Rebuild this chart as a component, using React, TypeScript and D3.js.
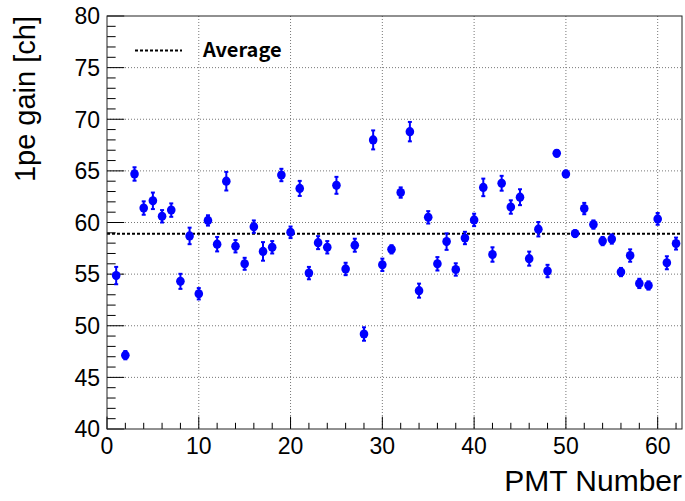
import React from "react";
import * as d3 from "d3";

const pmtNumbers = [
  1, 2, 3, 4, 5, 6, 7, 8, 9, 10, 11, 12, 13, 14, 15, 16, 17, 18, 19, 20, 21,
  22, 23, 24, 25, 26, 27, 28, 29, 30, 31, 32, 33, 34, 35, 36, 37, 38, 39, 40,
  41, 42, 43, 44, 45, 46, 47, 48, 49, 50, 51, 52, 53, 54, 55, 56, 57, 58, 59,
  60, 61, 62,
];
const gains = [
  54.86, 47.15, 64.7, 61.4, 62.1, 60.6, 61.2, 54.3, 58.7, 53.1, 60.2, 57.9,
  64.0, 57.7, 56.0, 59.6, 57.2, 57.6, 64.6, 59.05, 63.3, 55.1, 58.05, 57.6,
  63.6, 55.5, 57.8, 49.2, 68.0, 55.9, 57.4, 62.9, 68.8, 53.4, 60.5, 56.0,
  58.15, 55.45, 58.5, 60.25, 63.4, 56.9, 63.8, 61.5, 62.45, 56.5, 59.35, 55.3,
  66.7, 64.7, 58.93, 61.35, 59.8, 58.2, 58.4, 55.2, 56.8, 54.1, 53.9, 60.35,
  56.1, 57.96,
];
const gainErrors = [
  0.84, 0.4, 0.65, 0.65, 0.8, 0.6, 0.65, 0.73, 0.8, 0.55, 0.5, 0.7, 0.9, 0.6,
  0.58, 0.6, 0.9, 0.6, 0.6, 0.56, 0.73, 0.6, 0.63, 0.6, 0.82, 0.6, 0.63, 0.65,
  0.92, 0.6, 0.4, 0.5, 0.94, 0.68, 0.6, 0.65, 0.8, 0.6, 0.6, 0.6, 0.85, 0.7,
  0.72, 0.65, 0.77, 0.68, 0.7, 0.6, 0.3, 0.3, 0.3, 0.55, 0.4, 0.4, 0.45, 0.4,
  0.6, 0.45, 0.4, 0.57, 0.63, 0.58,
];
const averageGain = 58.9;
const xTicks = [0, 10, 20, 30, 40, 50, 60];
const yTicks = [40, 45, 50, 55, 60, 65, 70, 75, 80];
const xLabel = "PMT Number";
const yLabel = "1pe gain [ch]";
const legendLabel = "Average";

const W = 685;
const H = 501;
const frame = { left: 107, right: 682, top: 16, bottom: 429 };
const axisFont = "'Liberation Sans', Arial, Helvetica, sans-serif";

export default function App() {
  const x = d3.scaleLinear().domain([0, 62.65]).range([frame.left, frame.right]);
  const y = d3.scaleLinear().domain([40, 80]).range([frame.bottom, frame.top]);

  const xMinor = d3.range(0, 62.65, 2);
  const yMinor = d3.range(40, 80.001, 1);
  const fw = frame.right - frame.left;
  const fh = frame.bottom - frame.top;
  const yTickLen = fw * 0.03;
  const xTickLen = fh * 0.03;

  const data = pmtNumbers.map((n, i) => ({ n, g: gains[i], e: gainErrors[i] }));

  return (
    <svg
      width={W}
      height={H}
      style={{ position: "absolute", left: 0, top: 0, display: "block", background: "#fff" }}
    >
      <rect x={0} y={0} width={W} height={H} fill="#fff" />
      {/* grid */}
      <g stroke="#777" strokeWidth={1} strokeDasharray="1,2">
        {xTicks.slice(1).map((t) => (
          <line key={"gx" + t} x1={x(t)} x2={x(t)} y1={frame.top} y2={frame.bottom} />
        ))}
        {yTicks.slice(1, -1).map((t) => (
          <line key={"gy" + t} x1={frame.left} x2={frame.right} y1={y(t)} y2={y(t)} />
        ))}
      </g>
      {/* average line */}
      <line
        x1={frame.left}
        x2={frame.right}
        y1={y(averageGain)}
        y2={y(averageGain)}
        stroke="#000"
        strokeWidth={2}
        strokeDasharray="3,2"
      />
      {/* ticks */}
      <g stroke="#000" strokeWidth={1}>
        {yMinor.map((t) => (
          <line
            key={"ty" + t}
            x1={frame.left}
            x2={frame.left + (t % 5 === 0 ? yTickLen : yTickLen / 2)}
            y1={y(t)}
            y2={y(t)}
          />
        ))}
        {xMinor.map((t) => (
          <line
            key={"tx" + t}
            x1={x(t)}
            x2={x(t)}
            y1={frame.bottom}
            y2={frame.bottom - (t % 10 === 0 ? xTickLen : xTickLen / 2)}
          />
        ))}
      </g>
      {/* frame */}
      <rect
        x={frame.left}
        y={frame.top}
        width={fw}
        height={fh}
        fill="none"
        stroke="#222"
        strokeWidth={1}
      />
      {/* error bars + markers */}
      <g>
        {data.map((d) => (
          <g key={"p" + d.n}>
            <line x1={x(d.n)} x2={x(d.n)} y1={y(d.g - d.e)} y2={y(d.g + d.e)} stroke="#0000ff" strokeWidth={2} />
            <line x1={x(d.n) - 2} x2={x(d.n) + 2} y1={y(d.g - d.e)} y2={y(d.g - d.e)} stroke="#0000ff" strokeWidth={2} />
            <line x1={x(d.n) - 2} x2={x(d.n) + 2} y1={y(d.g + d.e)} y2={y(d.g + d.e)} stroke="#0000ff" strokeWidth={2} />
            <ellipse cx={x(d.n)} cy={y(d.g)} rx={4.3} ry={4.6} fill="#0000ff" />
          </g>
        ))}
      </g>
      {/* tick labels */}
      <g fontFamily={axisFont} fontSize={23} fill="#000">
        {yTicks.map((t) => (
          <text key={"ly" + t} x={frame.left - 7} y={y(t)} dy="0.36em" textAnchor="end">
            {t}
          </text>
        ))}
        {xTicks.map((t) => (
          <text key={"lx" + t} x={x(t)} y={frame.bottom + 25} textAnchor="middle">
            {t}
          </text>
        ))}
      </g>
      {/* axis titles */}
      <text
        x={frame.right}
        y={491}
        textAnchor="end"
        fontFamily={axisFont}
        fontSize={30}
        fill="#000"
      >
        {xLabel}
      </text>
      <text
        transform={`translate(35, ${frame.top}) rotate(-90)`}
        textAnchor="end"
        fontFamily={axisFont}
        fontSize={29}
        fill="#000"
      >
        {yLabel}
      </text>
      {/* legend */}
      <line x1={135} x2={182} y1={50.5} y2={50.5} stroke="#000" strokeWidth={2} strokeDasharray="3,2" />
      <text
        x={203}
        y={57}
        fontFamily="'Noto Sans CJK JP', 'Noto Sans', sans-serif"
        fontWeight="bold"
        fontSize={20}
        fill="#000"
      >
        {legendLabel}
      </text>
    </svg>
  );
}
